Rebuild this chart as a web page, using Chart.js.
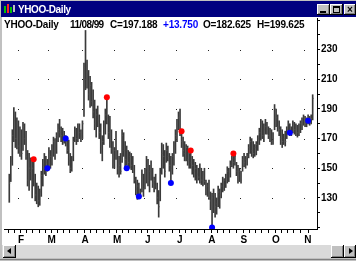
<!DOCTYPE html>
<html>
<head>
<meta charset="utf-8">
<script src="https://cdn.jsdelivr.net/npm/chart.js@4.4.0/dist/chart.umd.min.js"></script>
<style>
body { margin: 0; background: #c0c0c0; }
#win { position: relative; width: 356px; height: 261px; overflow: hidden; background: #c0c0c0; font-family: "Liberation Sans", Arial, sans-serif; }
#client { position: absolute; left: 2px; top: 17px; width: 354px; height: 228px; background: #fff; }
#title { position: absolute; left: 1px; top: 1px; width: 355px; height: 16px; background: #000080; }
#title .t { position: absolute; left: 17px; top: 3px; color: #fff; font-weight: bold; font-size: 10px; line-height: 12px; letter-spacing: -0.4px; }
#icon { position: absolute; left: 3px; top: 3px; width: 11px; height: 10px; }
#icon i { position: absolute; width: 2px; }
.btn { position: absolute; top: 3px; height: 11px; background: #c0c0c0; box-shadow: inset -1px -1px #000, inset 1px 1px #fff, inset -2px -2px #808080; }
#c { position: absolute; left: 0; top: 0; }
.hd { position: absolute; top: 19px; font-size: 10px; font-weight: bold; line-height: 12px; color: #000; letter-spacing: -0.2px; white-space: nowrap; }
#sb { position: absolute; left: 2px; top: 245px; width: 354px; height: 13px; background: #dadada; }
.sbb { position: absolute; top: 0; height: 13px; background: #c0c0c0; box-shadow: inset -1px -1px #000, inset 1px 1px #fff, inset -2px -2px #808080; }
.arr { position: absolute; top: 3px; width: 0; height: 0; border-top: 3px solid transparent; border-bottom: 3px solid transparent; }
</style>
</head>
<body>
<div id="win">
  <div id="client"></div>
  <canvas id="c" width="356" height="261"></canvas>
  <div id="title">
    <div id="icon">
      <i style="left:0;top:2px;height:7px;background:#00c000"></i>
      <i style="left:3px;top:0;height:9px;background:#ff2020"></i>
      <i style="left:6px;top:3px;height:6px;background:#00c000"></i>
      <i style="left:9px;top:1px;height:7px;background:#c0c0c0"></i>
    </div>
    <div class="t">YHOO-Daily</div>
    <div class="btn" style="left:316px;width:13px"><div style="position:absolute;left:3px;top:7px;width:6px;height:2px;background:#000"></div></div>
    <div class="btn" style="left:329px;width:13px"><div style="position:absolute;left:3px;top:2px;width:5px;height:4px;border:1px solid #000;border-top-width:2px"></div></div>
    <div class="btn" style="left:343px;width:12px"><div style="position:absolute;left:0;top:0;width:12px;text-align:center;font-size:10px;font-weight:bold;line-height:11px">×</div></div>
  </div>
  <span class="hd" style="left:4px">YHOO-Daily</span>
  <span class="hd" style="left:70px;letter-spacing:-0.6px">11/08/99</span>
  <span class="hd" style="left:110px">C=197.188</span>
  <span class="hd" style="left:163px;color:#0000ff">+13.750</span>
  <span class="hd" style="left:203px">O=182.625</span>
  <span class="hd" style="left:257px">H=199.625</span>
  <div id="sb">
    <div class="sbb" style="left:1px;width:13px"><div class="arr" style="left:4px;border-right:4px solid #000"></div></div>
    <div class="sbb" style="left:329px;width:13px"></div>
    <div class="sbb" style="left:342px;width:12px"><div class="arr" style="left:5px;border-left:4px solid #000"></div></div>
  </div>
  <div style="position:absolute;left:0;top:259px;width:356px;height:1px;background:#808080"></div>
</div>
<script>
// daily bars, one per trading day, late Jan 1999 to 11/08/99
const highs = [
  146, 158, 176, 191, 188, 184, 182, 178, 176, 181,
  180, 175, 162, 160, 157, 156, 156, 146, 140, 138,
  136, 148, 156, 160, 158, 156, 164, 162, 166, 171,
  170, 174, 180, 183, 178, 177, 175, 172, 170, 169,
  160, 158, 171, 178, 177, 180, 180, 176, 182, 221,
  243, 223, 216, 212, 208, 203, 196, 190, 192, 186,
  180, 172, 182, 190, 198, 186, 185, 176, 168, 164,
  175, 162, 158, 160, 176, 174, 168, 165, 162, 161,
  160, 158, 152, 144, 142, 140, 136, 149, 146, 150,
  158, 156, 152, 155, 150, 144, 146, 140, 135, 150,
  167, 166, 162, 167, 165, 160, 158, 160, 168, 176,
  183, 188, 190, 176, 171, 168, 166, 165, 163, 162,
  158, 156, 154, 152, 150, 153, 150, 148, 150, 142,
  140, 142, 134, 133, 136, 133, 130, 138, 136, 140,
  144, 143, 146, 151, 150, 155, 158, 160, 160, 154,
  152, 150, 148, 158, 160, 158, 160, 166, 171, 170,
  168, 166, 168, 172, 177, 183, 182, 180, 183, 181,
  178, 177, 176, 174, 193, 190, 186, 182, 178, 176,
  173, 175, 178, 182, 180, 178, 182, 181, 180, 179,
  180, 182, 184, 186, 185, 184, 186, 185, 186, 199.625
];
const lows = [
  127, 141, 152, 168, 164, 163, 160, 158, 156, 162,
  166, 156, 138, 135, 142, 130, 138, 128, 126, 124,
  125, 131, 138, 146, 145, 148, 149, 150, 152, 158,
  156, 160, 168, 171, 168, 166, 167, 165, 160, 152,
  147, 148, 155, 168, 166, 168, 170, 168, 170, 185,
  203, 204, 196, 191, 192, 184, 176, 171, 178, 170,
  160, 155, 166, 173, 180, 170, 164, 160, 150, 150,
  156, 146, 144, 146, 154, 158, 151, 152, 150, 150,
  149, 147, 140, 132, 129, 130, 131, 134, 131, 136,
  140, 138, 134, 142, 137, 134, 136, 126, 117, 128,
  146, 150, 144, 154, 155, 148, 141, 146, 152, 160,
  168, 176, 172, 164, 158, 155, 155, 152, 150, 150,
  146, 144, 142, 140, 142, 140, 139, 138, 139, 132,
  131, 129, 122, 110, 120, 117, 119, 124, 123, 130,
  134, 135, 137, 140, 141, 144, 151, 150, 152, 145,
  140, 141, 140, 148, 151, 150, 152, 157, 160, 158,
  157, 158, 159, 162, 166, 169, 170, 168, 173, 173,
  170, 168, 166, 166, 176, 178, 175, 172, 166, 164,
  166, 165, 170, 174, 172, 172, 174, 173, 172, 171,
  172, 174, 176, 179, 178, 178, 180, 179, 180, 182.625
];
const closes = [
  140, 155, 172, 182, 170, 178, 165, 175, 160, 178,
  170, 158, 142, 150, 148, 150, 142, 132, 136, 128,
  134, 145, 152, 150, 154, 150, 160, 158, 164, 168,
  160, 172, 176, 174, 172, 175, 170, 168, 162, 155,
  150, 156, 168, 176, 170, 178, 174, 172, 180, 218,
  210, 215, 200, 206, 195, 188, 180, 186, 182, 174,
  165, 168, 180, 186, 184, 174, 168, 163, 155, 162,
  158, 150, 152, 148, 172, 162, 156, 162, 154, 158,
  152, 150, 142, 136, 138, 132, 134, 146, 136, 148,
  150, 142, 148, 152, 140, 142, 138, 130, 124, 146,
  160, 158, 148, 162, 158, 152, 150, 158, 165, 172,
  180, 184, 176, 168, 162, 160, 164, 156, 160, 154,
  152, 148, 150, 146, 144, 150, 142, 146, 141, 136,
  138, 132, 128, 130, 132, 124, 126, 134, 132, 138,
  140, 142, 144, 148, 146, 152, 156, 154, 158, 148,
  144, 148, 142, 156, 154, 156, 158, 164, 168, 162,
  160, 164, 166, 170, 174, 180, 172, 176, 178, 176,
  172, 174, 168, 170, 190, 184, 178, 176, 170, 168,
  170, 168, 176, 180, 176, 174, 180, 176, 178, 174,
  178, 180, 182, 184, 180, 182, 184, 183, 183.438, 197.188
];

// signal markers
const redIdx = [16, 64, 113, 119, 147];
const redVal = [156, 198, 175, 162, 160];
const blueIdx = [25, 37, 77, 85, 106, 133, 184, 196];
const blueVal = [150, 170, 150, 131, 140, 110, 174, 182];

// axes
const monthStart = [6, 26, 48, 69, 89, 110, 131, 152, 173, 194];
const monthLabels = ['F', 'M', 'A', 'M', 'J', 'J', 'A', 'S', 'O', 'N'];
const yLabels = [130, 150, 170, 190, 210, 230];

Chart.defaults.font.family = '"Liberation Sans", Arial, sans-serif';

// weekly minor ticks between month ticks
const xTicks = [monthStart[0] - 4.5];
monthStart.forEach((m, k) => {
    xTicks.push(m - 0.5);
    const next = k < monthStart.length - 1 ? monthStart[k + 1] : 200;
    for (let t = m + 4; t < next - 2; t += 4) xTicks.push(t - 0.5);
});

const gridDots = {
    id: 'gridDots',
    beforeDatasetsDraw(chart) {
        const { ctx, scales: { x, y } } = chart;
        ctx.save();
        ctx.fillStyle = '#222';
        monthStart.forEach(m => {
            const px = Math.round(x.getPixelForValue(m - 0.5));
            yLabels.forEach(v => {
                const py = Math.round(y.getPixelForValue(v));
                ctx.fillRect(px, py, 1, 1);
            });
        });
        ctx.restore();
    }
};

const ctx = document.getElementById('c').getContext('2d');

new Chart(ctx, {
    type: 'bar',
    data: {
        datasets: [{
            type: 'bar',
            data: highs.map((h, i) => ({ x: i, y: [lows[i], h] })),
            backgroundColor: '#3a3a3a',
            barThickness: 1,
            order: 3
        }, {
            type: 'line',
            showLine: false,
            data: closes.map((c, i) => ({ x: i, y: c })),
            pointStyle: 'dash',
            pointRadius: 1,
            pointBorderWidth: 1,
            borderColor: '#555',
            pointHoverRadius: 0,
            order: 2
        }, {
            type: 'line',
            showLine: false,
            data: redIdx.map((i, k) => ({ x: i, y: redVal[k] })),
            pointRadius: 3,
            pointBorderWidth: 0,
            pointBackgroundColor: '#ff0000',
            order: 0
        }, {
            type: 'line',
            showLine: false,
            data: blueIdx.map((i, k) => ({ x: i, y: blueVal[k] })),
            pointRadius: 3,
            pointBorderWidth: 0,
            pointBackgroundColor: '#0000ff',
            order: 0
        }]
    },
    options: {
        responsive: false,
        animation: false,
        events: [],
        layout: { padding: { left: 2, right: 3, top: 18, bottom: 16 } },
        plugins: { legend: { display: false }, tooltip: { enabled: false } },
        scales: {
            x: {
                type: 'linear',
                position: 'bottom',
                min: -1.276,
                max: 199.65,
                grid: { drawOnChartArea: false, drawTicks: true, tickLength: 4, color: '#000' },
                border: { color: '#000' },
                ticks: {
                    autoSkip: false,
                    maxRotation: 0,
                    color: '#000',
                    padding: 1,
                    labelOffset: 3.5,
                    font: { size: 10, weight: 'bold' },
                    callback: (v) => {
                        const k = monthStart.indexOf(v + 0.5);
                        return k >= 0 ? monthLabels[k] : '';
                    }
                },
                afterBuildTicks: (scale) => { scale.ticks = xTicks.map(v => ({ value: v })); },
                afterFit: (scale) => { scale.height = 16; }
            },
            y: {
                position: 'right',
                min: 109,
                max: 251.4,
                grid: { drawOnChartArea: false, drawTicks: true, tickLength: 3, color: '#000' },
                border: { color: '#000' },
                ticks: {
                    color: '#000',
                    padding: 1,
                    font: { size: 10, weight: 'bold' },
                    callback: (v) => yLabels.includes(v) ? String(v) : ''
                },
                afterBuildTicks: (scale) => {
                    const t = [];
                    for (let v = 110; v <= 250; v += 10) t.push({ value: v });
                    scale.ticks = t;
                },
                afterFit: (scale) => { scale.width = 36; }
            }
        }
    },
    plugins: [gridDots]
});
</script>
</body>
</html>
